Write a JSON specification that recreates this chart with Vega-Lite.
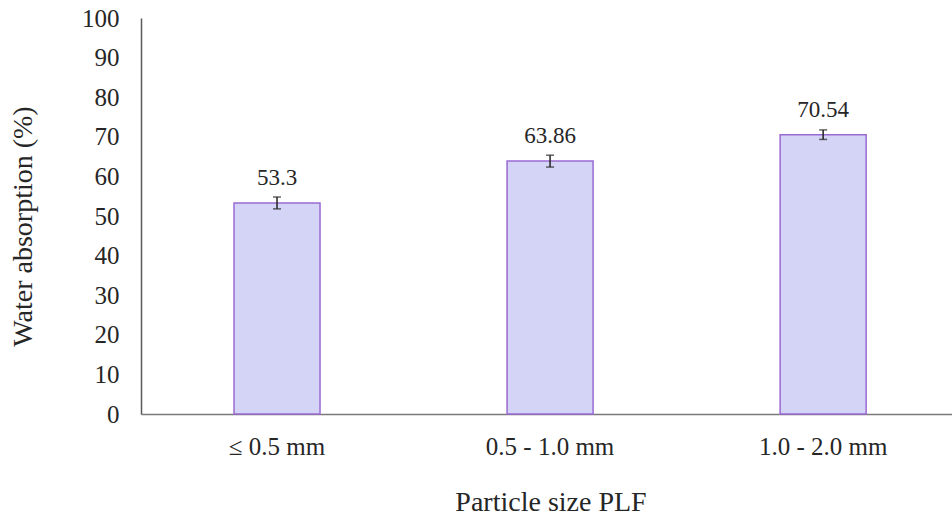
{
  "$schema": "https://vega.github.io/schema/vega-lite/v6.json",
  "width": 811,
  "height": 396,
  "autosize": {"type": "none"},
  "padding": {"left": 141, "top": 18, "right": 0, "bottom": 101},
  "background": "white",
  "config": {
    "view": {"stroke": null},
    "font": "Liberation Serif"
  },
  "data": {
    "values": [
      {"size": "≤ 0.5 mm", "value": 53.3, "err": 1.5},
      {"size": "0.5 - 1.0 mm", "value": 63.86, "err": 1.5},
      {"size": "1.0 - 2.0 mm", "value": 70.54, "err": 1.2}
    ]
  },
  "encoding": {
    "x": {
      "field": "size",
      "type": "nominal",
      "sort": null,
      "scale": {"paddingInner": 0.685, "paddingOuter": 0.3275, "align": 0.52},
      "axis": {
        "title": "Particle size PLF",
        "titleFont": "Liberation Serif",
        "titleFontSize": 28,
        "titleFontWeight": "normal",
        "titleColor": "#262626",
        "titleBaseline": "alphabetic",
        "titleY": 96,
        "titleX": 409.5,
        "labelAngle": 0,
        "labelFont": "Liberation Serif",
        "labelFontSize": 25,
        "labelColor": "#262626",
        "labelBaseline": "alphabetic",
        "labelPadding": 40,
        "ticks": false,
        "tickSize": 0,
        "domainColor": "#7a7a7a",
        "domainWidth": 1.5,
        "grid": false
      }
    },
    "y": {
      "field": "value",
      "type": "quantitative",
      "scale": {"domain": [0, 100], "nice": false},
      "axis": {
        "title": "Water absorption (%)",
        "titleFont": "Liberation Serif",
        "titleFontSize": 28,
        "titleFontWeight": "normal",
        "titleColor": "#262626",
        "titleBaseline": "alphabetic",
        "titleX": -110,
        "titleY": 208,
        "values": [0, 10, 20, 30, 40, 50, 60, 70, 80, 90, 100],
        "labelOverlap": false,
        "labelFont": "Liberation Serif",
        "labelFontSize": 25,
        "labelColor": "#262626",
        "labelPadding": 22,
        "ticks": false,
        "tickSize": 0,
        "domainColor": "#5a5a5a",
        "domainWidth": 1.5,
        "grid": false
      }
    }
  },
  "layer": [
    {
      "mark": {"type": "bar", "fill": "#d4d4f7", "stroke": "#9a6ad2", "strokeWidth": 1.5}
    },
    {
      "mark": {"type": "errorbar", "color": "#222222", "thickness": 1.5, "ticks": {"size": 8, "thickness": 1.5, "color": "#222222"}},
      "encoding": {
        "yError": {"field": "err"}
      }
    },
    {
      "mark": {"type": "text", "fontSize": 23, "font": "Liberation Serif", "color": "#262626", "baseline": "alphabetic", "dy": -18},
      "encoding": {
        "text": {"field": "value", "type": "nominal"}
      }
    }
  ]
}
